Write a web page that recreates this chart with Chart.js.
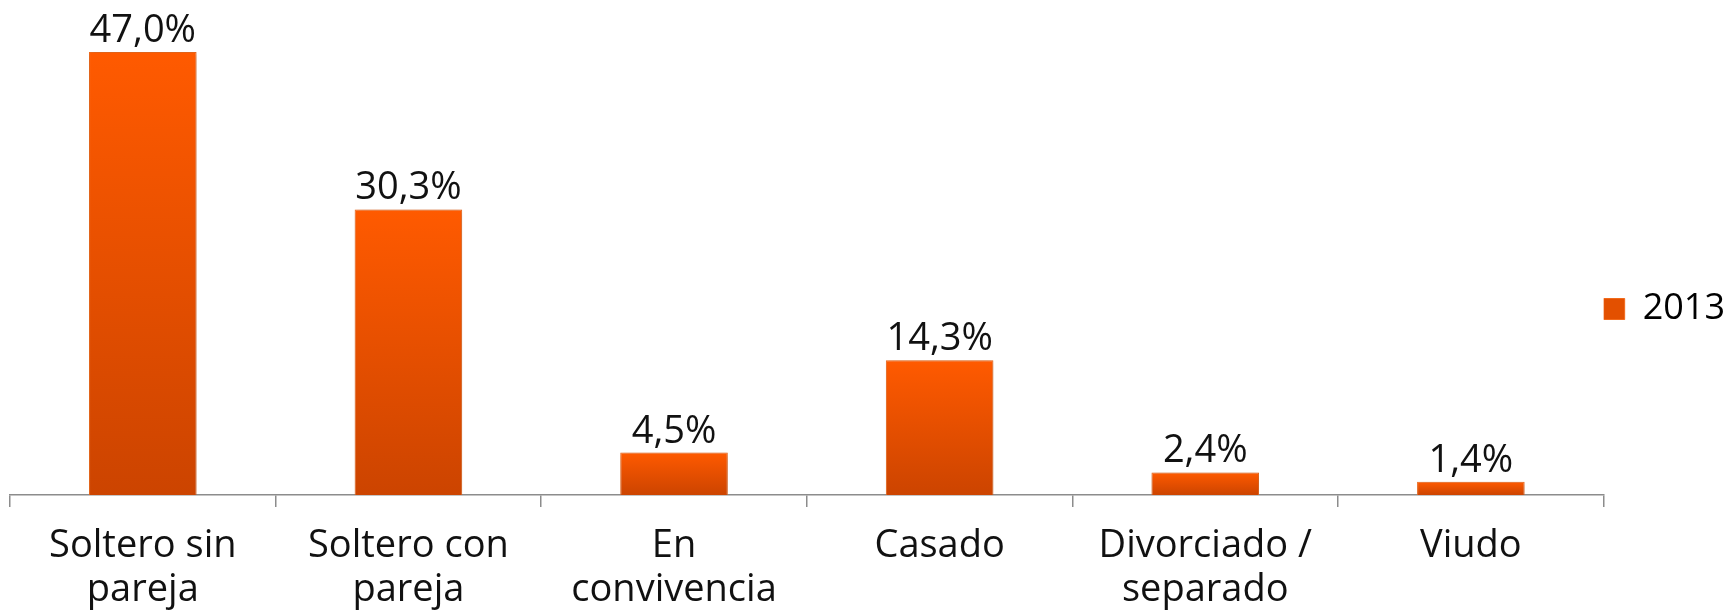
<!DOCTYPE html>
<html>
<head>
<meta charset="utf-8">
<script src="https://cdn.jsdelivr.net/npm/chart.js@4/dist/chart.umd.min.js"></script>
<style>
  html, body { margin: 0; padding: 0; background: #fff; }
  #wrap { width: 1727px; height: 610px; }
</style>
</head>
<body>
<div id="wrap"><canvas id="barchart" width="1727" height="610"></canvas></div>
<script>
const categories = [
  ["Soltero sin", "pareja"],
  ["Soltero con", "pareja"],
  ["En", "convivencia"],
  "Casado",
  ["Divorciado /", "separado"],
  "Viudo"
]
const values_2013 = [47.0, 30.3, 4.5, 14.3, 2.4, 1.4]
const series_label = "2013"

const FONT = "'Open Sans', Lato, sans-serif"

function fmt(v) {
  return v.toFixed(1).replace('.', ',') + '%'
}

// gradient per bar, bright on top, darker at base
function barFill(ctx) {
  const chart = ctx.chart
  const y = chart.scales && chart.scales.y
  if (!chart.chartArea || !y || ctx.raw === undefined) return '#F05500'
  const top = y.getPixelForValue(ctx.raw)
  const base = y.getPixelForValue(0)
  if (!isFinite(top) || !isFinite(base) || base - top < 1) return '#F05500'
  const g = chart.ctx.createLinearGradient(0, top, 0, base)
  g.addColorStop(0, '#FF5A00')
  g.addColorStop(1, '#CC4400')
  return g
}

// soft shadow around the bars
const barShadow = {
  id: 'barShadow',
  beforeDatasetsDraw(chart) {
    const c = chart.ctx
    c.save()
    c.shadowColor = 'rgba(0,0,0,0.22)'
    c.shadowBlur = 6
    c.shadowOffsetX = 1
    c.shadowOffsetY = 1
  },
  afterDatasetsDraw(chart) {
    chart.ctx.restore()
  }
}

const valueLabels = {
  id: 'valueLabels',
  afterDatasetsDraw(chart) {
    const c = chart.ctx
    const meta = chart.getDatasetMeta(0)
    c.save()
    c.font = "38px " + FONT
    c.fillStyle = '#111'
    c.textAlign = 'center'
    c.textBaseline = 'alphabetic'
    meta.data.forEach((bar, i) => {
      c.fillText(fmt(values_2013[i]), bar.x, bar.y - 10)
    })
    c.restore()
  }
}

new Chart(
  document.getElementById('barchart'),
  {
    type: 'bar',
    data: {
      labels: categories,
      datasets: [
        {
          label: series_label,
          data: values_2013,
          backgroundColor: barFill,
          borderColor: '#F26A1B',
          borderWidth: 1,
          categoryPercentage: 1,
          barPercentage: 0.405
        }
      ]
    },
    plugins: [barShadow, valueLabels],
    options: {
      responsive: false,
      animation: false,
      layout: {
        padding: { left: 10, top: 8, right: -8, bottom: 0 }
      },
      plugins: {
        tooltip: { enabled: false },
        legend: {
          position: 'right',
          labels: {
            boxWidth: 21,
            boxHeight: 21,
            padding: 0,
            color: '#111',
            font: { family: FONT, size: 36 },
            generateLabels: () => [{
              text: series_label,
              fillStyle: '#E35000',
              strokeStyle: '#F26A1B',
              lineWidth: 1,
              datasetIndex: 0
            }]
          }
        }
      },
      scales: {
        x: {
          afterFit: (scale) => { scale.height = 115 },
          grid: {
            drawOnChartArea: false,
            tickLength: 12,
            color: '#8C8C8C',
            lineWidth: 1.5
          },
          border: { color: '#8C8C8C', width: 1.5 },
          ticks: {
            color: '#111',
            font: { family: FONT, size: 38, lineHeight: 1.16 },
            maxRotation: 0,
            padding: 17
          }
        },
        y: {
          display: false,
          min: 0,
          max: 51.67
        }
      }
    }
  }
)
</script>
</body>
</html>
